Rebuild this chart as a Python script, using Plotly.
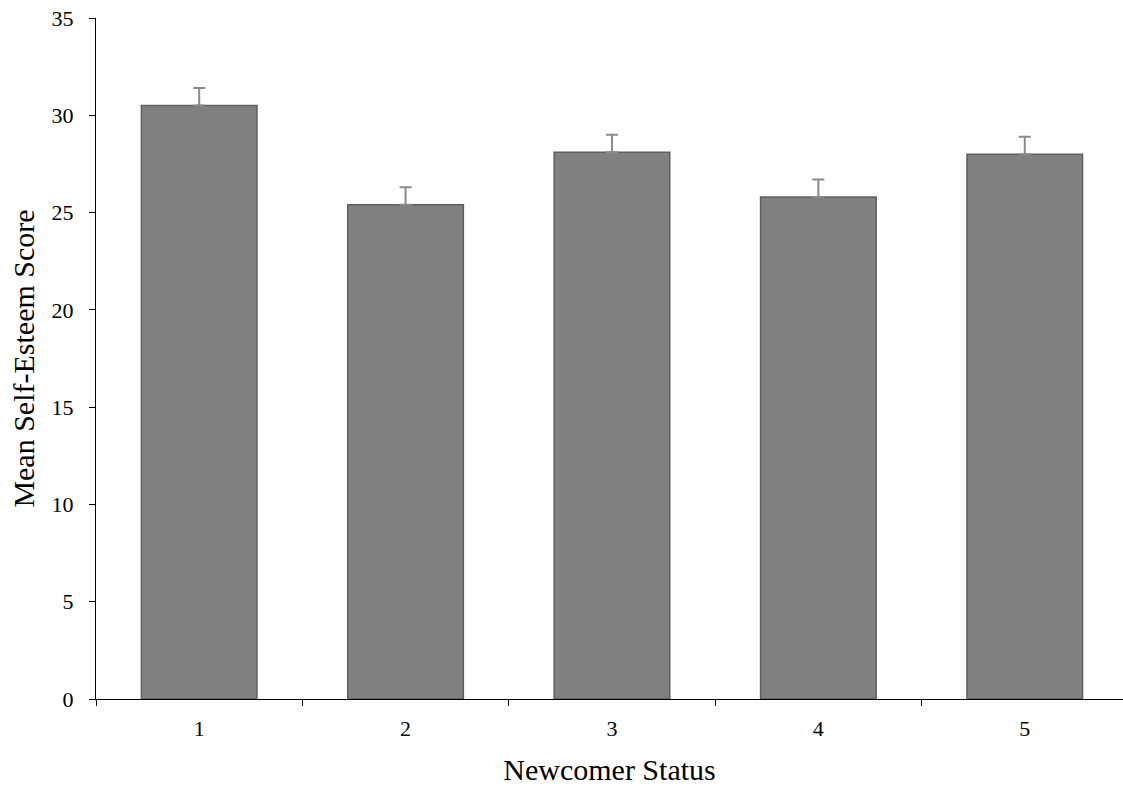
import plotly.graph_objects as go

categories = ["1", "2", "3", "4", "5"]
means = [30.5, 25.4, 28.1, 25.8, 28.0]
errors = [0.9, 0.9, 0.9, 0.9, 0.9]
y_ticks = [0, 5, 10, 15, 20, 25, 30, 35]

fig = go.Figure()
fig.add_trace(go.Bar(
    x=categories, y=means,
    width=0.56,
    marker=dict(color="#808080", line=dict(color="#5f5f5f", width=1.5)),
    error_y=dict(type="data", array=errors, symmetric=False, arrayminus=[0]*5,
                 color="#8a8a8a", thickness=2, width=6),
))

font_family = "Liberation Serif, Times New Roman, serif"
fig.update_layout(
    width=1123, height=787,
    margin=dict(l=96, r=0, t=18, b=88),
    plot_bgcolor="white", paper_bgcolor="white",
    showlegend=False,
    font=dict(family=font_family, color="black"),
    xaxis=dict(
        type="category", tickson="boundaries", ticks="outside", ticklen=6,
        range=[-0.5, 4.476], automargin=False,
        tickcolor="black", showline=True, linecolor="black", linewidth=1,
        showgrid=False, tickfont=dict(size=22), ticklabelstandoff=10,
        title=dict(text="Newcomer Status", font=dict(size=30), standoff=18),
    ),
    yaxis=dict(
        range=[0, 35], tickvals=y_ticks, ticks="outside", ticklen=6,
        tickcolor="black", showline=True, linecolor="black", linewidth=1,
        showgrid=False, zeroline=False, tickfont=dict(size=22), ticklabelstandoff=11,
        ticklabeloverflow="allow", automargin=False,
        title=dict(text="Mean Self-Esteem Score", font=dict(size=30), standoff=8),
    ),
)

fig.write_html(
    "out.html",
    config={"displayModeBar": False},
    post_script="document.body.style.margin='0px';document.body.style.overflow='hidden';",
)
